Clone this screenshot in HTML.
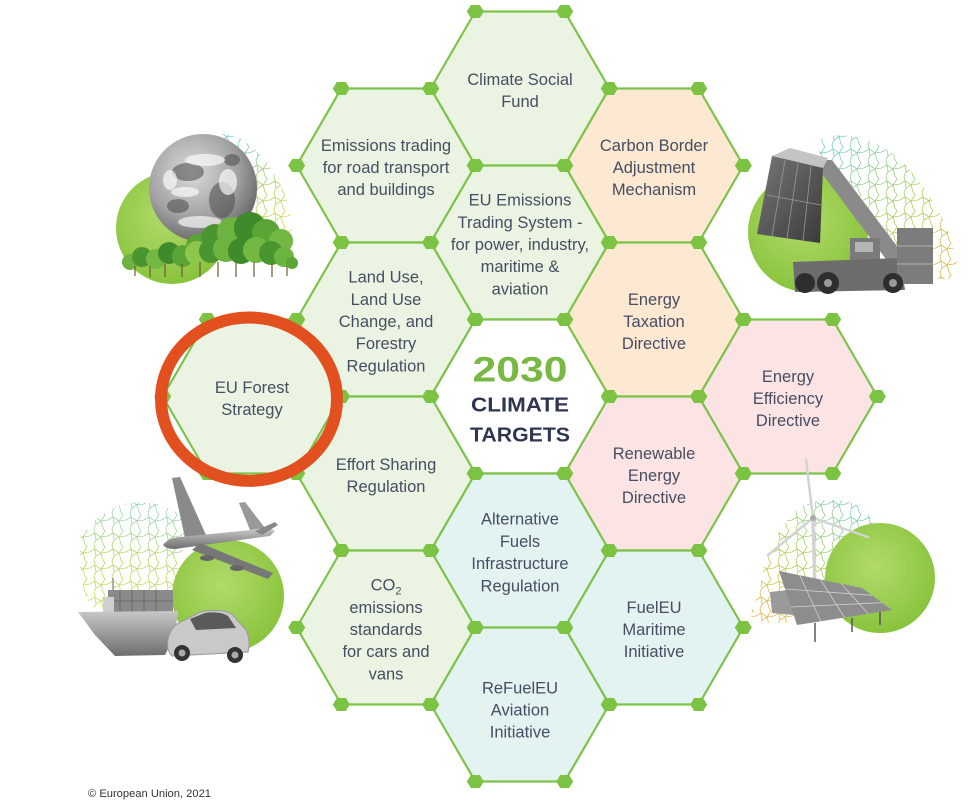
<!DOCTYPE html>
<html>
<head>
<meta charset="utf-8">
<style>
  html,body{margin:0;padding:0;background:#fff;}
  svg{display:block;}
</style>
</head>
<body>
<svg width="980" height="804" viewBox="0 0 980 804" xmlns="http://www.w3.org/2000/svg" xmlns:xlink="http://www.w3.org/1999/xlink" font-family="'Liberation Sans', Arial, sans-serif">
<defs>
  <path id="hx" d="M-89.33 0 L-44.67 -77 L44.67 -77 L89.33 0 L44.67 77 L-44.67 77 Z"/>
  <path id="dt" d="M-8.5 0 L-4.5 -6.5 L4.5 -6.5 L8.5 0 L4.5 6.5 L-4.5 6.5 Z"/>
  <g id="d6" fill="#7cc243">
    <use href="#dt" x="-89.33" y="0"/>
    <use href="#dt" x="-44.67" y="-77"/>
    <use href="#dt" x="44.67" y="-77"/>
    <use href="#dt" x="89.33" y="0"/>
    <use href="#dt" x="44.67" y="77"/>
    <use href="#dt" x="-44.67" y="77"/>
  </g>
  <pattern id="vp" width="18" height="16" patternUnits="userSpaceOnUse">
    <rect width="18" height="16" fill="#000"/>
    <path d="M0 8 L5 5 L11 9 L18 8 M5 5 L4 0 M11 9 L13 16 M5 5 L6 12 L4 16 M11 9 L15 3 L13 0 M6 12 L11 9" stroke="#fff" stroke-width="0.8" fill="none"/>
  </pattern>
  <mask id="vm" maskUnits="userSpaceOnUse" x="0" y="0" width="980" height="804">
    <rect x="0" y="0" width="980" height="804" fill="url(#vp)"/>
  </mask>
  <linearGradient id="vg1" x1="0" y1="0" x2="0.3" y2="1">
    <stop offset="0" stop-color="#5ec4d6"/>
    <stop offset="0.5" stop-color="#8cc84b"/>
    <stop offset="1" stop-color="#d3d630"/>
  </linearGradient>
  <linearGradient id="vg2" x1="0" y1="0" x2="1" y2="1">
    <stop offset="0" stop-color="#5ec4d6"/>
    <stop offset="0.55" stop-color="#9ccc3e"/>
    <stop offset="1" stop-color="#f0a030"/>
  </linearGradient>
  <linearGradient id="vg3" x1="0.5" y1="0" x2="0.4" y2="1">
    <stop offset="0" stop-color="#7fcfc0"/>
    <stop offset="0.5" stop-color="#a8d44a"/>
    <stop offset="1" stop-color="#c9dc3c"/>
  </linearGradient>
  <linearGradient id="vg4" x1="1" y1="0" x2="0" y2="1">
    <stop offset="0" stop-color="#5ec4d6"/>
    <stop offset="0.5" stop-color="#9ccc3e"/>
    <stop offset="1" stop-color="#f5a623"/>
  </linearGradient>
  <radialGradient id="gc" cx="0.45" cy="0.4" r="0.65">
    <stop offset="0" stop-color="#b2da6a"/>
    <stop offset="1" stop-color="#86c23a"/>
  </radialGradient>
  <radialGradient id="globeG" cx="0.4" cy="0.35" r="0.7">
    <stop offset="0" stop-color="#dcdcdc"/>
    <stop offset="0.6" stop-color="#a2a2a2"/>
    <stop offset="1" stop-color="#606060"/>
  </radialGradient>
  <linearGradient id="contG" x1="0" y1="0" x2="1" y2="1">
    <stop offset="0" stop-color="#777"/>
    <stop offset="1" stop-color="#3a3a3a"/>
  </linearGradient>
  <linearGradient id="greyG" x1="0" y1="0" x2="0" y2="1">
    <stop offset="0" stop-color="#c8c8c8"/>
    <stop offset="1" stop-color="#6e6e6e"/>
  </linearGradient>
</defs>

<rect width="980" height="804" fill="#fff"/>

<!-- Hexagon fills -->
<g stroke="#7dc24a" stroke-width="2.2" stroke-linejoin="round">
  <use href="#hx" x="520" y="88.5" fill="#ebf4e2"/>
  <use href="#hx" x="386" y="165.5" fill="#ebf4e2"/>
  <use href="#hx" x="654" y="165.5" fill="#fde8d1"/>
  <use href="#hx" x="520" y="242.5" fill="#ebf4e2"/>
  <use href="#hx" x="386" y="319.5" fill="#ebf4e2"/>
  <use href="#hx" x="654" y="319.5" fill="#fde8d1"/>
  <use href="#hx" x="252" y="396.5" fill="#ebf4e2"/>
  <use href="#hx" x="520" y="396.5" fill="#ffffff"/>
  <use href="#hx" x="788" y="396.5" fill="#fce4e4"/>
  <use href="#hx" x="386" y="473.5" fill="#ebf4e2"/>
  <use href="#hx" x="654" y="473.5" fill="#fce4e4"/>
  <use href="#hx" x="520" y="550.5" fill="#e2f3f2"/>
  <use href="#hx" x="386" y="627.5" fill="#ebf4e2"/>
  <use href="#hx" x="654" y="627.5" fill="#e2f3f2"/>
  <use href="#hx" x="520" y="704.5" fill="#e2f3f2"/>
</g>

<!-- Vertex dots -->
<g>
  <use href="#d6" x="520" y="88.5"/>
  <use href="#d6" x="386" y="165.5"/>
  <use href="#d6" x="654" y="165.5"/>
  <use href="#d6" x="520" y="242.5"/>
  <use href="#d6" x="386" y="319.5"/>
  <use href="#d6" x="654" y="319.5"/>
  <use href="#d6" x="252" y="396.5"/>
  <use href="#d6" x="520" y="396.5"/>
  <use href="#d6" x="788" y="396.5"/>
  <use href="#d6" x="386" y="473.5"/>
  <use href="#d6" x="654" y="473.5"/>
  <use href="#d6" x="520" y="550.5"/>
  <use href="#d6" x="386" y="627.5"/>
  <use href="#d6" x="654" y="627.5"/>
  <use href="#d6" x="520" y="704.5"/>
</g>

<!-- Hexagon labels -->
<g font-size="16.5" fill="#474d62" text-anchor="middle">
  <text x="520" y="84.9">Climate Social</text>
  <text x="520" y="107.1">Fund</text>

  <text x="386" y="150.8">Emissions trading</text>
  <text x="386" y="173">for road transport</text>
  <text x="386" y="195.2">and buildings</text>

  <text x="654" y="150.8">Carbon Border</text>
  <text x="654" y="173">Adjustment</text>
  <text x="654" y="195.2">Mechanism</text>

  <text x="520" y="205.6">EU Emissions</text>
  <text x="520" y="227.8">Trading System -</text>
  <text x="520" y="250">for power, industry,</text>
  <text x="520" y="272.2">maritime &amp;</text>
  <text x="520" y="294.4">aviation</text>

  <text x="386" y="282.6">Land Use,</text>
  <text x="386" y="304.8">Land Use</text>
  <text x="386" y="327">Change, and</text>
  <text x="386" y="349.2">Forestry</text>
  <text x="386" y="371.4">Regulation</text>

  <text x="654" y="304.8">Energy</text>
  <text x="654" y="327">Taxation</text>
  <text x="654" y="349.2">Directive</text>

  <text x="252" y="392.9">EU Forest</text>
  <text x="252" y="415.1">Strategy</text>

  <text x="788" y="381.8">Energy</text>
  <text x="788" y="404">Efficiency</text>
  <text x="788" y="426.2">Directive</text>

  <text x="386" y="469.9">Effort Sharing</text>
  <text x="386" y="492.1">Regulation</text>

  <text x="654" y="458.8">Renewable</text>
  <text x="654" y="481">Energy</text>
  <text x="654" y="503.2">Directive</text>

  <text x="520" y="524.7">Alternative</text>
  <text x="520" y="546.9">Fuels</text>
  <text x="520" y="569.1">Infrastructure</text>
  <text x="520" y="591.3">Regulation</text>

  <text x="386" y="590.6">CO<tspan font-size="11" dy="4">2</tspan></text>
  <text x="386" y="612.8">emissions</text>
  <text x="386" y="635">standards</text>
  <text x="386" y="657.2">for cars and</text>
  <text x="386" y="679.4">vans</text>

  <text x="654" y="612.8">FuelEU</text>
  <text x="654" y="635">Maritime</text>
  <text x="654" y="657.2">Initiative</text>

  <text x="520" y="693.3">ReFuelEU</text>
  <text x="520" y="715.5">Aviation</text>
  <text x="520" y="737.7">Initiative</text>
</g>

<!-- Center title -->
<g text-anchor="middle" font-weight="bold">
  <text x="520" y="381.7" font-size="35" fill="#78b843" textLength="95" lengthAdjust="spacingAndGlyphs">2030</text>
  <text x="520" y="411.7" font-size="20.5" fill="#2e3650" textLength="98" lengthAdjust="spacingAndGlyphs">CLIMATE</text>
  <text x="520" y="441.7" font-size="20.5" fill="#2e3650" textLength="100" lengthAdjust="spacingAndGlyphs">TARGETS</text>
</g>

<!-- ===== Illustration: globe + trees (top-left) ===== -->
<g>
  <path d="M222 134 C246 134 270 160 285 195 C295 222 294 242 285 247 L252 238 C236 215 226 186 220 160 Z" fill="url(#vg1)" mask="url(#vm)" opacity="0.85"/>
  <circle cx="172" cy="228" r="56" fill="url(#gc)"/>
  <circle cx="203" cy="188" r="54" fill="url(#globeG)"/>
  <g fill="#4a4a4a" opacity="0.55">
    <ellipse cx="188" cy="172" rx="16" ry="9"/>
    <ellipse cx="222" cy="200" rx="13" ry="18"/>
    <ellipse cx="178" cy="206" rx="11" ry="7"/>
    <ellipse cx="232" cy="160" rx="8" ry="6"/>
  </g>
  <g fill="#fff" opacity="0.65">
    <ellipse cx="205" cy="160" rx="20" ry="6"/>
    <ellipse cx="185" cy="192" rx="14" ry="5"/>
    <ellipse cx="228" cy="182" rx="9" ry="13"/>
    <ellipse cx="200" cy="222" rx="22" ry="6"/>
    <ellipse cx="170" cy="180" rx="7" ry="10"/>
  </g>
  <!-- trees -->
  <g>
    <circle cx="198" cy="246" r="12" fill="#5aa535"/>
    <circle cx="215" cy="238" r="14" fill="#4b9530"/>
    <circle cx="232" cy="232" r="15" fill="#6db33f"/>
    <circle cx="250" cy="228" r="16" fill="#3f8a2a"/>
    <circle cx="266" cy="233" r="14" fill="#5aa535"/>
    <circle cx="281" cy="241" r="12" fill="#74b844"/>
    <circle cx="130" cy="262" r="8" fill="#6db33f"/>
    <circle cx="142" cy="257" r="10" fill="#4b9530"/>
    <circle cx="156" cy="259" r="10" fill="#74b844"/>
    <circle cx="169" cy="253" r="11" fill="#3f8a2a"/>
    <circle cx="183" cy="256" r="11" fill="#5aa535"/>
    <circle cx="197" cy="253" r="12" fill="#8cc64b"/>
    <circle cx="211" cy="251" r="12" fill="#4b9530"/>
    <circle cx="226" cy="249" r="13" fill="#6db33f"/>
    <circle cx="241" cy="251" r="13" fill="#3f8a2a"/>
    <circle cx="256" cy="250" r="13" fill="#74b844"/>
    <circle cx="271" cy="253" r="12" fill="#4b9530"/>
    <circle cx="284" cy="257" r="10" fill="#6db33f"/>
    <circle cx="292" cy="263" r="6" fill="#5aa535"/>
    <g stroke="#6b5a3a" stroke-width="1.2">
      <line x1="135" y1="266" x2="135" y2="276"/>
      <line x1="150" y1="266" x2="150" y2="277"/>
      <line x1="165" y1="264" x2="165" y2="277"/>
      <line x1="182" y1="264" x2="182" y2="277"/>
      <line x1="200" y1="262" x2="200" y2="277"/>
      <line x1="218" y1="262" x2="218" y2="277"/>
      <line x1="236" y1="262" x2="236" y2="277"/>
      <line x1="254" y1="262" x2="254" y2="277"/>
      <line x1="272" y1="264" x2="272" y2="277"/>
      <line x1="287" y1="266" x2="287" y2="276"/>
    </g>
  </g>
</g>

<!-- ===== Illustration: container handler (top-right) ===== -->
<g>
  <path d="M818 140 C845 128 885 140 910 170 C935 200 955 235 958 270 C955 283 935 283 915 268 C890 245 865 215 845 190 C830 172 815 155 818 140 Z" fill="url(#vg2)" mask="url(#vm)" opacity="0.85"/>
  <circle cx="808" cy="232" r="60" fill="url(#gc)"/>
  <polygon points="812,160 832,160 915,270 900,278" fill="#8a8a8a"/>
  <polygon points="772,156 790,148 828,158 823,168" fill="#c4c4c4"/>
  <polygon points="772,156 823,168 820,243 757,234" fill="url(#contG)"/>
  <g stroke="#999" stroke-width="0.8">
    <line x1="785" y1="160" x2="772" y2="236"/>
    <line x1="798" y1="163" x2="787" y2="238"/>
    <line x1="811" y1="166" x2="803" y2="241"/>
    <line x1="767" y1="195" x2="821" y2="205"/>
  </g>
  <rect x="850" y="238" width="30" height="25" fill="#7a7a7a"/>
  <rect x="855" y="242" width="18" height="10" fill="#b5b5b5"/>
  <polygon points="793,262 900,258 905,290 795,292" fill="#6d6d6d"/>
  <rect x="897" y="228" width="36" height="56" fill="#7c7c7c"/>
  <g stroke="#b0b0b0" stroke-width="1">
    <line x1="897" y1="246" x2="933" y2="246"/>
    <line x1="897" y1="264" x2="933" y2="264"/>
  </g>
  <circle cx="805" cy="283" r="10" fill="#2e2e2e"/>
  <circle cx="828" cy="283" r="11" fill="#2e2e2e"/>
  <circle cx="893" cy="283" r="10" fill="#2e2e2e"/>
  <circle cx="828" cy="283" r="4" fill="#999"/>
  <circle cx="893" cy="283" r="4" fill="#999"/>
</g>

<!-- ===== Illustration: plane, ship, car (bottom-left) ===== -->
<g>
  <path d="M80 540 C88 522 110 506 130 503 C152 500 178 508 186 522 C182 550 180 585 175 602 C158 612 120 612 98 610 C84 605 78 575 80 540 Z" fill="url(#vg3)" mask="url(#vm)" opacity="0.85"/>
  <circle cx="228" cy="596" r="56" fill="url(#gc)"/>
  <!-- plane -->
  <path d="M185 538 L172 478 L180 477 L206 535 Z" fill="#8a8a8a"/>
  <path d="M163 545 Q168 538 180 537 L262 529 Q272 528 275 531 L270 536 L182 548 Q168 551 163 545 Z" fill="url(#greyG)"/>
  <path d="M200 543 L273 573 L268 579 L192 550 Z" fill="#777"/>
  <ellipse cx="207" cy="558" rx="7" ry="3" fill="#666"/>
  <ellipse cx="237" cy="568" rx="7" ry="3" fill="#666"/>
  <path d="M250 530 L239 503 L245 502 L265 528 Z" fill="#999"/>
  <path d="M255 531 L275 522 L278 525 L262 535 Z" fill="#888"/>
  <!-- ship -->
  <line x1="113" y1="578" x2="113" y2="598" stroke="#999" stroke-width="1.5"/>
  <rect x="108" y="590" width="65" height="22" fill="#8a8a8a"/>
  <g stroke="#6a6a6a" stroke-width="1">
    <line x1="120" y1="590" x2="120" y2="612"/>
    <line x1="132" y1="590" x2="132" y2="612"/>
    <line x1="144" y1="590" x2="144" y2="612"/>
    <line x1="156" y1="590" x2="156" y2="612"/>
    <line x1="108" y1="601" x2="173" y2="601"/>
  </g>
  <rect x="103" y="597" width="11" height="15" fill="#cfcfcf"/>
  <polygon points="78,612 178,611 175,635 165,655 115,656 95,635" fill="url(#greyG)"/>
  <!-- car -->
  <path d="M168 640 Q170 625 185 620 L200 612 Q220 608 232 614 L246 630 Q251 640 248 652 L172 656 Q166 650 168 640 Z" fill="#c9c9c9" stroke="#999" stroke-width="1"/>
  <path d="M190 619 L205 613 Q220 611 228 616 L236 628 L196 630 Z" fill="#5a5a5a"/>
  <circle cx="182" cy="653" r="8" fill="#333"/>
  <circle cx="235" cy="655" r="8" fill="#333"/>
  <circle cx="182" cy="653" r="3.5" fill="#aaa"/>
  <circle cx="235" cy="655" r="3.5" fill="#aaa"/>
</g>

<!-- ===== Illustration: wind turbine + solar (bottom-right) ===== -->
<g>
  <path d="M760 590 C762 560 778 525 800 508 C820 496 848 498 862 508 C880 522 878 548 868 565 C855 588 838 605 820 615 C800 624 775 625 752 620 C750 610 755 600 760 590 Z" fill="url(#vg4)" mask="url(#vm)" opacity="0.85"/>
  <circle cx="880" cy="578" r="55" fill="url(#gc)"/>
  <g stroke="#d3d3d3" stroke-linecap="round">
    <line x1="813" y1="518" x2="815" y2="590" stroke-width="3.5"/>
    <line x1="813" y1="518" x2="806" y2="460" stroke-width="2.5"/>
    <line x1="813" y1="518" x2="768" y2="555" stroke-width="2.5"/>
    <line x1="813" y1="518" x2="868" y2="537" stroke-width="2.5"/>
  </g>
  <circle cx="813" cy="518" r="3" fill="#aaa"/>
  <polygon points="770,592 788,590 794,615 772,613" fill="#9a9a9a"/>
  <polygon points="779,571 862,588 892,610 797,625" fill="#8d8d8d"/>
  <g stroke="#d0d0d0" stroke-width="0.8">
    <line x1="799.75" y1="575.25" x2="820.75" y2="621.25"/>
    <line x1="820.5" y1="579.5" x2="844.5" y2="617.5"/>
    <line x1="841.25" y1="583.75" x2="868.25" y2="613.75"/>
    <line x1="785" y1="589" x2="872" y2="595.3"/>
    <line x1="791" y1="607" x2="882" y2="602.7"/>
  </g>
  <g stroke="#555" stroke-width="1.5">
    <line x1="815" y1="623" x2="815" y2="642"/>
    <line x1="852" y1="618" x2="852" y2="632"/>
    <line x1="880" y1="612" x2="880" y2="625"/>
  </g>
</g>

<!-- Red highlight ring -->
<ellipse cx="249" cy="399.2" rx="88" ry="81.7" fill="none" stroke="#e2501f" stroke-width="12"/>

<!-- Copyright -->
<text x="88" y="797" font-size="11" fill="#333" textLength="123" lengthAdjust="spacingAndGlyphs">© European Union, 2021</text>
</svg>
</body>
</html>
